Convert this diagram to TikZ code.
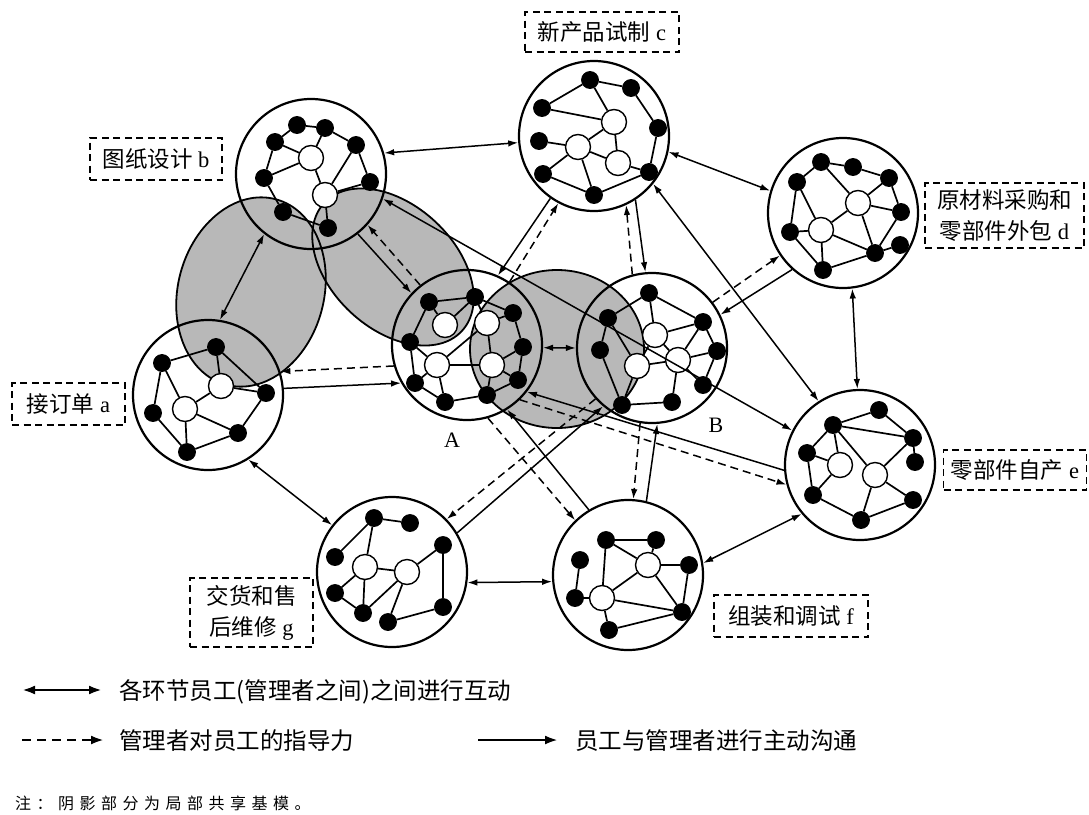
\documentclass[tikz,border=0pt]{standalone}
\usepackage{fontspec}
\setmainfont{Liberation Serif}
\newfontfamily\cjk{Noto Sans CJK SC}
\usetikzlibrary{arrows.meta}
\newcommand\nsp{\hspace{5.5pt}}
\begin{document}
\begin{tikzpicture}[x=1pt,y=-1pt,
  shadefill/.style={fill=black!28},
  shadeline/.style={draw=black,line width=1.8pt},
  ring/.style={circle,draw=black,line width=2.2pt,minimum size=150pt,inner sep=0pt},
  bn/.style={circle,fill=black,draw=black,line width=0.8pt,minimum size=17pt,inner sep=0pt},
  wn/.style={circle,fill=white,draw=black,line width=1.4pt,minimum size=25pt,inner sep=0pt},
  ed/.style={line width=1.7pt},
  dbl/.style={line width=1.5pt,{Latex[length=10pt,width=6.5pt]}-{Latex[length=10pt,width=6.5pt]}},
  sarr/.style={line width=1.5pt,-{Latex[length=10pt,width=6.5pt]}},
  darr/.style={line width=1.5pt,-{Latex[length=10pt,width=6.5pt]},dash pattern=on 8pt off 5pt},
  lbl/.style={draw=black,line width=1.8pt,dash pattern=on 7pt off 4.5pt,inner sep=0pt,align=center,font=\fontsize{22.5}{31}\selectfont},
  txt/.style={inner sep=0pt,font=\fontsize{23.5}{28}\selectfont},
  letter/.style={inner sep=0pt,font=\fontsize{22}{24}\selectfont},
  legdbl/.style={line width=2.8pt,{Latex[length=13pt,width=9pt]}-{Latex[length=13pt,width=9pt]}},
  legdash/.style={line width=2.5pt,dash pattern=on 9pt off 6pt,-{Latex[length=13pt,width=9pt]}},
  legsol/.style={line width=2.5pt,-{Latex[length=13pt,width=9pt]}}
]
\useasboundingbox (0,0) rectangle (1089,814);

% shaded shared regions
\fill[shadefill] (251,292) ellipse [x radius=73pt, y radius=96pt, rotate=-15];
\fill[shadefill] (393,267) ellipse [x radius=94pt, y radius=62pt, rotate=-43];
\fill[shadefill] (557,349) ellipse [x radius=87pt, y radius=79pt];
\draw[shadeline] (251,292) ellipse [x radius=73pt, y radius=96pt, rotate=-15];
\draw[shadeline] (393,267) ellipse [x radius=94pt, y radius=62pt, rotate=-43];
\draw[shadeline] (557,349) ellipse [x radius=87pt, y radius=79pt];

% rings
\node[ring] (a) at (208,395) {};
\node[ring] (b) at (311,174) {};
\node[ring] (c) at (594,136) {};
\node[ring] (d) at (843,213) {};
\node[ring] (e) at (860,465) {};
\node[ring] (f) at (628,575) {};
\node[ring] (g) at (392,572) {};
\node[ring] (A) at (467,345) {};
\node[ring] (B) at (652,348) {};

% network nodes
\foreach \nm/\x/\y in {a1/216/347, a2/162/363, a4/266/393, a6/153/413, a7/238/433, a8/187/452,
  b1/297/125, b2/325/128, b3/275/142, b4/356/145, b6/264/178, b7/370/182, b9/283/212, b10/328/228,
  c1/590/80, c2/631/88, c3/542/108, c5/658/128, c6/539/141, c9/649/172, c10/543/174, c11/594/195,
  d1/821/162, d2/853/167, d3/797/182, d4/889/178, d6/901/212, d7/790/232, d9/900/245, d10/875/253, d11/823/270,
  e1/879/410, e2/833/425, e3/913/438, e4/807/453, e6/915/462, e8/813/495, e9/913/500, e10/861/520,
  f1/606/540, f2/656/540, f3/580/560, f5/689/565, f6/575/598, f8/682/612, f9/609/630,
  g1/374/518, g2/410/523, g3/443/545, g4/335/557, g7/335/593, g8/443/607, g9/363/613, g10/388/622,
  A1/429/302, A2/475/297, A3/513/313, A6/410/342, A7/523/347, A10/415/383, A11/518/380, A12/487/395, A13/445/402,
  B1/649/293, B2/608/318, B3/703/322, B5/600/350, B6/717/351, B9/703/385, B10/622/405, B11/672/402}
  \node[bn] (\nm) at (\x,\y) {};
\foreach \nm/\x/\y in {a3/221/386, a5/185/409, b5/311/158, b8/325/195, c4/614/122, c7/578/147, c8/618/163,
  d5/858/203, d8/821/230, e5/840/465, e7/875/475, f4/648/565, f7/602/598, g5/365/567, g6/407/572,
  A4/445/325, A5/487/323, A8/437/365, A9/492/365, B4/655/335, B7/637/366, B8/678/360}
  \node[wn] (\nm) at (\x,\y) {};

% network edges
\foreach \u/\v in {a2/a1, a1/a3, a1/a4, a3/a4, a2/a5, a2/a6, a3/a5, a6/a8, a5/a8, a5/a7, a8/a7, a4/a7,
  b1/b2, b1/b3, b2/b4, b3/b5, b2/b5, b3/b6, b6/b5, b5/b8, b4/b8, b4/b7, b7/b8, b6/b9, b9/b10, b8/b10,
  c3/c1, c1/c2, c1/c4, c2/c5, c3/c4, c4/c7, c4/c8, c6/c7, c7/c8, c7/c10, c7/c11, c8/c9, c5/c9, c10/c11, c11/c9,
  d3/d1, d1/d2, d2/d4, d1/d5, d3/d7, d3/d8, d4/d5, d4/d6, d5/d8, d5/d6, d5/d10, d6/d10, d7/d8, d7/d11, d8/d11, d8/d10, d11/d10, d10/d9,
  e2/e1, e1/e3, e2/e3, e2/e4, e2/e5, e2/e7, e4/e5, e4/e8, e5/e8, e3/e6, e3/e7, e7/e9, e7/e10, e8/e10, e10/e9,
  f1/f2, f1/f4, f2/f4, f1/f7, f3/f6, f6/f7, f7/f4, f4/f5, f4/f8, f5/f8, f7/f8, f7/f9, f9/f8,
  g1/g2, g1/g4, g1/g5, g5/g6, g6/g3, g3/g8, g5/g7, g5/g9, g7/g9, g6/g9, g6/g10, g10/g8,
  A1/A2, A1/A4, A2/A4, A2/A5, A1/A6, A6/A8, A6/A10, A8/A10, A8/A13, A8/A9, A8/A5, A10/A13, A13/A12, A12/A9, A12/A11, A9/A11, A9/A7, A5/A3, A3/A7, A7/A11, A5/A9, A2/A3,
  B1/B2, B1/B3, B1/B4, B2/B5, B2/B7, B3/B4, B3/B6, B3/B8, B4/B7, B4/B8, B5/B10, B7/B8, B7/B10, B8/B6, B8/B9, B8/B11, B6/B9, B10/B11}
  \draw[ed] (\u) -- (\v);

% interaction (double arrows)
\draw[dbl] (a.81) -- (b.232);
\draw[dbl] (b.16) -- (c.185);
\draw[dbl] (c.-12) -- (d.163);
\draw[dbl] (d.-83) -- (e.92);
\draw[dbl] (e.220) -- (f.9);
\draw[dbl] (g.-8) -- (f.185);
\draw[dbl] (a.-58) -- (g.142);
\draw[dbl] (A.-2) -- (B.180);
\draw[dbl] (c.-39) -- (e.123);
\draw[dbl] (b.-19) -- (e.153);

% employees to managers (solid)
\draw[sarr] (a.5) -- (A.210);
\draw[sarr] (b.-52) -- (A.137);
\draw[sarr] (c.235) -- (A.66);
\draw[sarr] (c.-57) -- (B.95);
\draw[sarr] (d.228) -- (B.26);
\draw[sarr] (e.184) -- (A.-38);
\draw[sarr] (f.121) -- (A.-58);
\draw[sarr] (f.76) -- (B.-86);
\draw[sarr] (g.31) -- (B.230);

% managers guidance (dashed)
\draw[darr] (A.196) -- (a.18);
\draw[darr] (A.128) -- (b.-42);
\draw[darr] (A.56) -- (c.242);
\draw[darr] (B.105) -- (c.-65);
\draw[darr] (B.37) -- (d.214);
\draw[darr] (A.-46) -- (e.195);
\draw[darr] (A.-74) -- (f.134);
\draw[darr] (B.-99) -- (f.86);
\draw[darr] (B.222) -- (g.44);

% A, B letters
\node[letter] (lA) at (452,440) {A};
\node[letter] (lB) at (716,425) {B};

% stage labels
\node[lbl,minimum width=154pt,minimum height=40pt] (lc) at (602,32) {{\cjk 新产品试制} c};
\node[lbl,minimum width=132pt,minimum height=42pt] (lb) at (156,159) {{\cjk 图纸设计} b};
\node[lbl,minimum width=159pt,minimum height=65pt] (ld) at (1004.5,215.5) {{\cjk 原材料采购和}\\{\cjk 零部件外包} d};
\node[lbl,minimum width=113pt,minimum height=42pt] (la) at (68.5,404) {{\cjk 接订单} a};
\node[lbl,minimum width=143pt,minimum height=40pt] (le) at (1015,470) {{\cjk 零部件自产} e};
\node[lbl,minimum width=154pt,minimum height=42pt] (lf) at (791,616) {{\cjk 组装和调试} f};
\node[lbl,minimum width=123pt,minimum height=69pt] (lg) at (251.5,612.5) {{\cjk 交货和售}\\{\cjk 后维修} g};

% legend
\coordinate (p1) at (22,690); \coordinate (q1) at (102,690);
\draw[legdbl] (p1) -- (q1);
\node[txt,anchor=west] (t1) at (119,692) {\cjk 各环节员工(管理者之间)之间进行互动};
\coordinate (p2) at (22,740); \coordinate (q2) at (104,740);
\draw[legdash] (p2) -- (q2);
\node[txt,anchor=west] (t2) at (119,741) {\cjk 管理者对员工的指导力};
\coordinate (p3) at (478,740); \coordinate (q3) at (558,740);
\draw[legsol] (p3) -- (q3);
\node[txt,anchor=west] (t3) at (575,741) {\cjk 员工与管理者进行主动沟通};
\node[anchor=west,inner sep=0pt,font=\fontsize{16}{18}\selectfont] (nt) at (15,803)
  {\cjk 注\nsp：\nsp 阴\nsp 影\nsp 部\nsp 分\nsp 为\nsp 局\nsp 部\nsp 共\nsp 享\nsp 基\nsp 模\nsp 。};
\end{tikzpicture}
\end{document}
